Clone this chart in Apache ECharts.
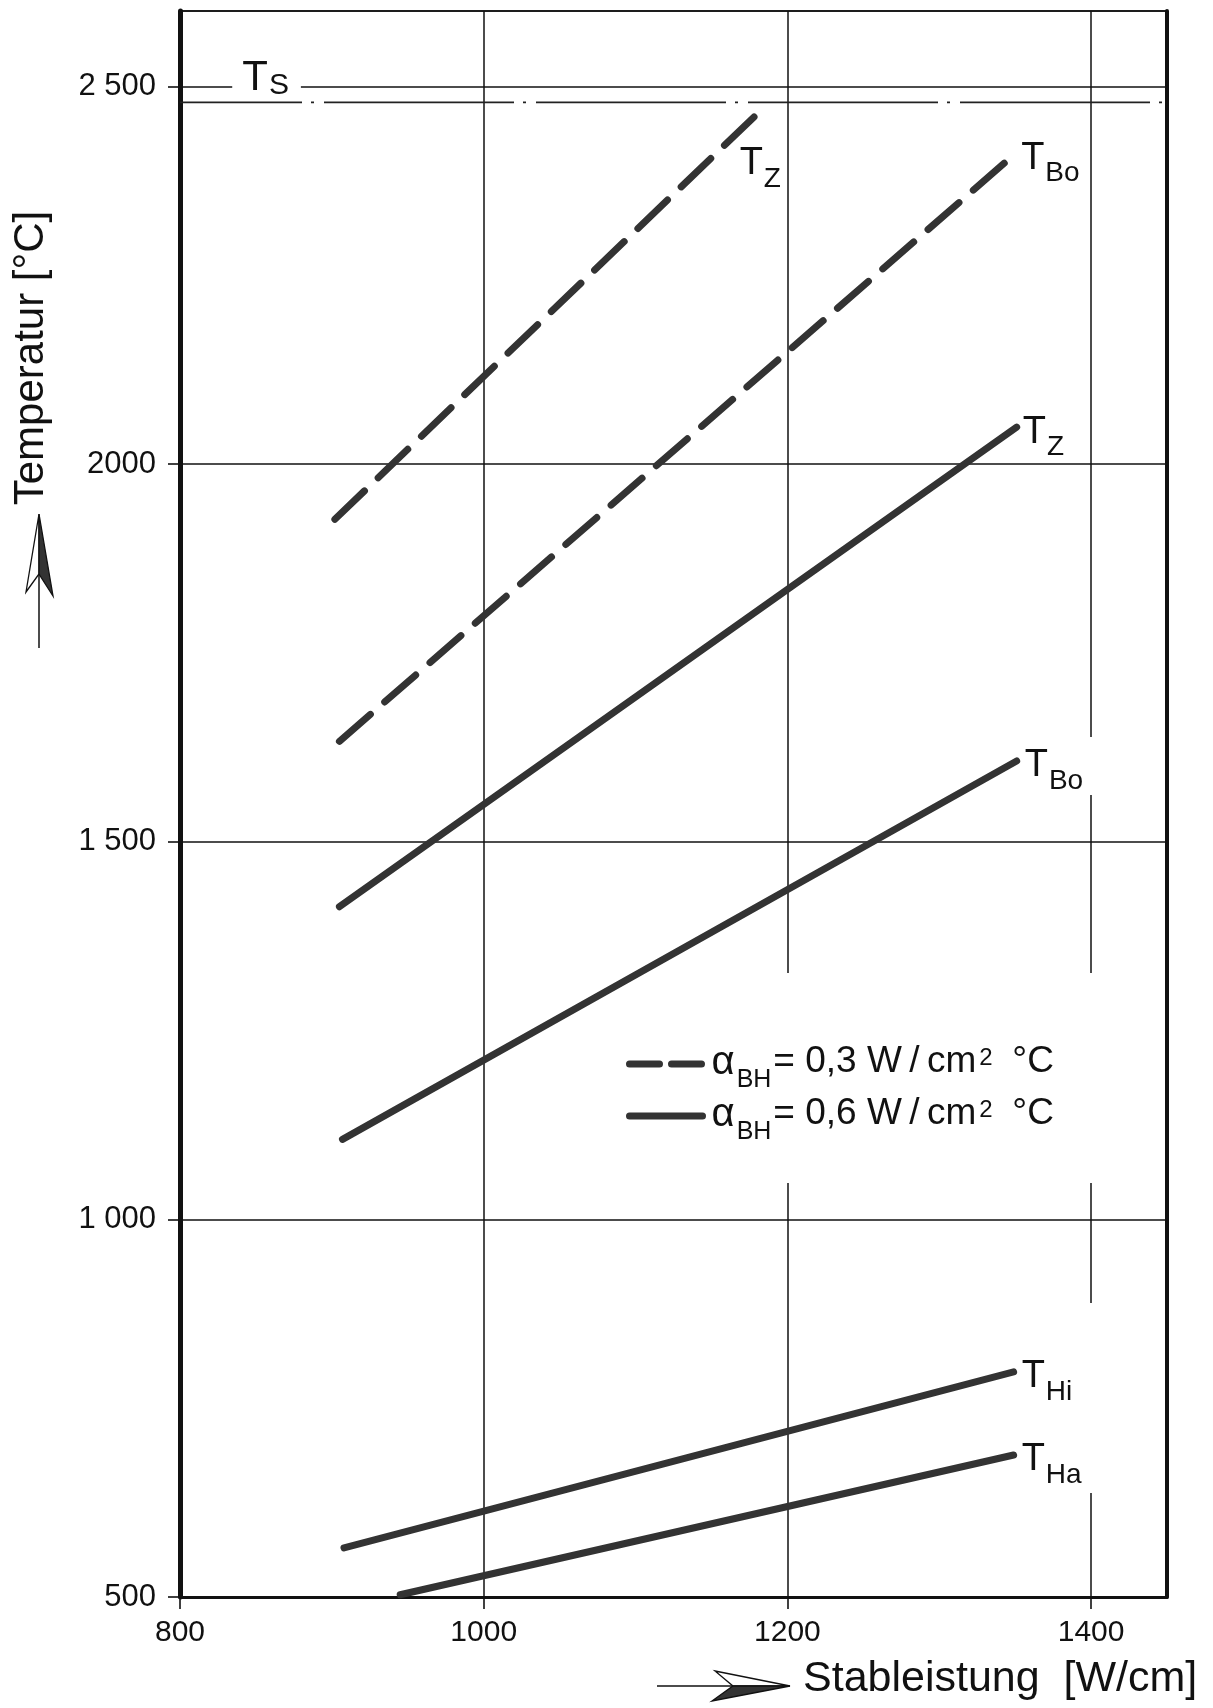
<!DOCTYPE html>
<html>
<head>
<meta charset="utf-8">
<script src="https://cdn.jsdelivr.net/npm/echarts@6/dist/echarts.min.js"></script>
<style>
  html, body { margin: 0; padding: 0; background: #fff; }
  #chart { width: 1213px; height: 1708px; }
</style>
</head>
<body>
<div id="chart"></div>
<script>
// ---- data ----
const xTicks = [800, 1000, 1200, 1400];
const yTicks = [500, 1000, 1500, 2000, 2500];
const yTickText = ['500', '1 000', '1 500', '2000', '2 500'];

// alpha_BH = 0.3 W/cm2 °C (dashed)
const dashTz  = [[902, 1927], [1187, 2477]];
const dashTBo = [[905, 1633], [1350, 2411]];
// alpha_BH = 0.6 W/cm2 °C (solid)
const solTz  = [[905, 1414], [1351, 2049]];
const solTBo = [[907, 1106], [1351, 1607]];
const solTHi = [[908, 565], [1349, 798]];
const solTHa = [[945, 503], [1349, 688]];
// T_S reference lines
const tsBand = [[800, 2479], [1450, 2479]];
const tsLabelPoint = [[857, 2500]];

const seriesNames = ['a03', 'a06'];
const legendText = {
  a03: '{a|α}{sub|BH}{n|= 0,3 W\u2009/\u2009cm}{sup|2}{n| \u2009°C}',
  a06: '{a|α}{sub|BH}{n|= 0,6 W\u2009/\u2009cm}{sup|2}{n| \u2009°C}'
};

const FONT = 'Liberation Sans, Arial, sans-serif';
const INK = '#333';

const labRich = {
  t: { fontFamily: FONT, fontSize: 38, lineHeight: 38, verticalAlign: 'top', color: '#111' },
  s: { fontFamily: FONT, fontSize: 28, lineHeight: 28, padding: [20, 0, 0, 1], verticalAlign: 'top', color: '#111' }
};

function curve(name, data, dashed, sub, extra) {
  return {
    type: 'line',
    name: name,
    data: data,
    z: 5,
    symbol: 'none',
    showSymbol: false,
    silent: true,
    animation: false,
    lineStyle: { color: INK, width: 7, cap: 'round', type: dashed ? [41, 19] : 'solid' },
    endLabel: Object.assign({
      show: true,
      formatter: '{t|T}{s|' + sub + '}',
      rich: labRich,
      distance: 6,
      offset: [0, 5]
    }, extra || {})
  };
}

const chart = echarts.init(document.getElementById('chart'), null, { renderer: 'canvas' });

chart.setOption({
  backgroundColor: '#fff',
  animation: false,
  textStyle: { fontFamily: FONT, color: '#111' },
  grid: { left: 180, right: 46, top: 11, bottom: 111, show: true, borderColor: '#444', borderWidth: 2 },
  xAxis: {
    type: 'value', min: 800, max: 1450, interval: 200,
    axisLine: { show: true, onZero: false, lineStyle: { color: '#111', width: 3 } },
    axisTick: { show: true, length: 12, lineStyle: { color: '#111', width: 1.6 } },
    axisLabel: {
      showMaxLabel: false, margin: 21, fontSize: 30, color: '#111', fontFamily: FONT,
      formatter: v => (xTicks.indexOf(v) >= 0 ? String(v) : '')
    },
    splitLine: { show: true, lineStyle: { color: '#111', width: 1.5 } }
  },
  yAxis: [{
    type: 'value', min: 500, max: 2600, interval: 500,
    axisLine: { show: true, onZero: false, lineStyle: { color: '#111', width: 5 } },
    axisTick: { show: true, length: 12, lineStyle: { color: '#111', width: 1.6 } },
    axisLabel: {
      showMaxLabel: false, margin: 24, fontSize: 31, color: '#111', fontFamily: FONT,
      formatter: v => { const i = yTicks.indexOf(v); return i >= 0 ? yTickText[i] : ''; }
    },
    splitLine: { show: true, lineStyle: { color: '#111', width: 1.5 } }
  }, {
    type: 'value', min: 500, max: 2600, interval: 500, position: 'right',
    axisLine: { show: true, onZero: false, lineStyle: { color: '#111', width: 4 } },
    axisTick: { show: false }, axisLabel: { show: false }, splitLine: { show: false }
  }],
  legend: {
    data: [
      { name: 'a03', lineStyle: { type: [30, 12] } },
      { name: 'a06' }
    ],
    orient: 'vertical',
    left: 606, top: 973,
    padding: [70, 48, 38, 20],
    itemWidth: 73, itemHeight: 10, itemGap: 2,
    backgroundColor: '#fff',
    selectedMode: false,
    lineStyle: { width: 7 },
    itemStyle: { opacity: 0 },
    formatter: name => legendText[name],
    textStyle: {
      color: '#111', fontFamily: FONT,
      rich: {
        a: { fontFamily: FONT, fontSize: 40, lineHeight: 42, verticalAlign: 'top', color: '#111', padding: [0, 0, 0, 4] },
        sub: { fontFamily: FONT, fontSize: 25, lineHeight: 25, padding: [25, 2, 0, 2], verticalAlign: 'top', color: '#111' },
        n: { fontFamily: FONT, fontSize: 37, lineHeight: 42, verticalAlign: 'top', color: '#111' },
        sup: { fontFamily: FONT, fontSize: 24, lineHeight: 24, padding: [3, 2, 0, 3], verticalAlign: 'top', color: '#111' }
      }
    }
  },
  series: [
    curve(seriesNames[0], dashTz, true, 'Z', { offset: [-34, 60] }),
    curve(seriesNames[0], dashTBo, true, 'Bo'),
    curve(seriesNames[1], solTz, false, 'Z'),
    curve(seriesNames[1], solTBo, false, 'Bo', { backgroundColor: '#fff', padding: [10, 22, 10, 2] }),
    curve(seriesNames[1], solTHi, false, 'Hi', { backgroundColor: '#fff', padding: [55, 24, 55, 2] }),
    curve(seriesNames[1], solTHa, false, 'Ha', { backgroundColor: '#fff', padding: [14, 22, 14, 2] }),
    {
      type: 'line', name: 'TsBand', data: tsBand, z: 4, symbol: 'none', silent: true,
      lineStyle: { color: '#222', width: 1.8, type: [190, 9, 3, 10], dashOffset: 68 }
    },
    {
      type: 'scatter', name: 'TsLabel', data: tsLabelPoint, z: 6, symbolSize: 0, silent: true,
      itemStyle: { color: '#111', opacity: 1 },
      label: {
        show: true, position: 'inside', offset: [0, -8], color: '#111',
        textBorderWidth: 0, textBorderColor: 'transparent',
        formatter: '{t|T}{s|S}', backgroundColor: '#fff', padding: [0, 12, 0, 10],
        rich: {
          t: { fontFamily: FONT, fontSize: 42, lineHeight: 42, verticalAlign: 'top', color: '#111', textBorderWidth: 0 },
          s: { fontFamily: FONT, fontSize: 30, lineHeight: 30, padding: [13, 0, 0, 1], verticalAlign: 'top', color: '#111', textBorderWidth: 0 }
        }
      }
    }
  ],
  graphic: [
    // y axis title and arrow
    { type: 'text', x: 31, y: 358, rotation: Math.PI / 2,
      style: { text: 'Temperatur [°C]', font: '42px ' + FONT, fill: '#111', align: 'center', verticalAlign: 'middle' } },
    { type: 'line', shape: { x1: 39, y1: 560, x2: 39, y2: 648 }, style: { stroke: '#111', lineWidth: 1.5 } },
    { type: 'polygon', shape: { points: [[39, 514], [26, 592], [39, 574]] }, style: { fill: '#fff', stroke: '#111', lineWidth: 1.3 } },
    { type: 'polygon', shape: { points: [[39, 514], [53, 596], [39, 574]] }, style: { fill: '#333', stroke: '#111', lineWidth: 1.3 } },
    // x axis title and arrow
    { type: 'text', x: 803, y: 1679,
      style: { text: 'Stableistung  [W/cm]', font: '43px ' + FONT, fill: '#111', align: 'left', verticalAlign: 'middle' } },
    { type: 'line', shape: { x1: 657, y1: 1686, x2: 735, y2: 1686 }, style: { stroke: '#111', lineWidth: 1.5 } },
    { type: 'polygon', shape: { points: [[790, 1686], [715, 1671], [733, 1686]] }, style: { fill: '#fff', stroke: '#111', lineWidth: 1.3 } },
    { type: 'polygon', shape: { points: [[790, 1686], [712, 1701], [733, 1686]] }, style: { fill: '#333', stroke: '#111', lineWidth: 1.3 } }
  ]
});
</script>
</body>
</html>
